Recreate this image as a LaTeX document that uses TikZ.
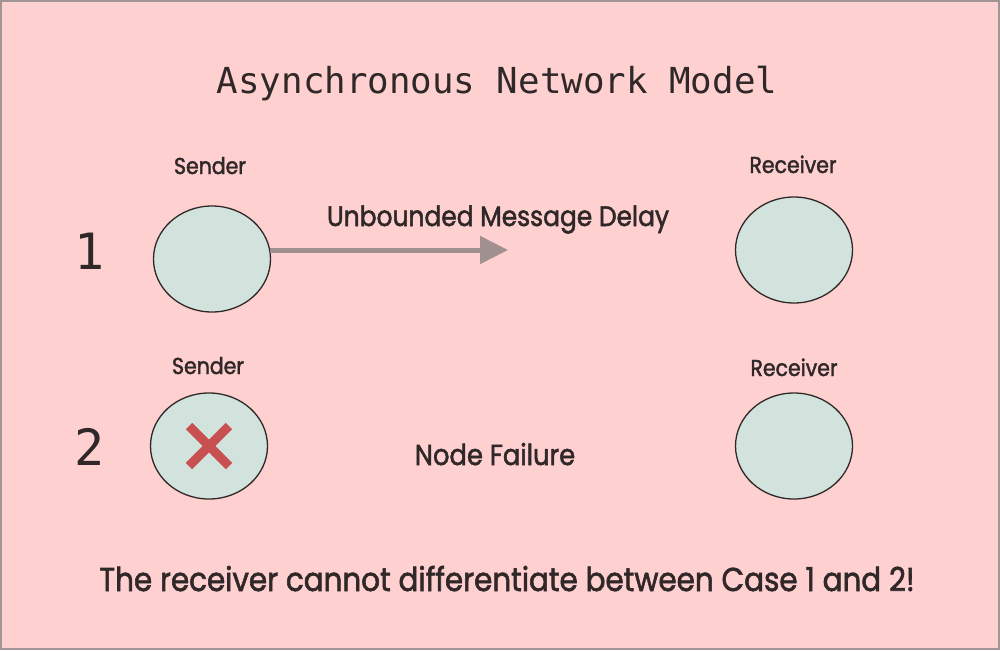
\documentclass[tikz,border=0pt]{standalone}
\usepackage{fontspec}
\setmainfont{Poppins}[FakeStretch=0.89,FakeBold=1.8]
\setmonofont{DejaVu Sans Mono}
\usetikzlibrary{shapes.geometric,arrows.meta}
\definecolor{bgpink}{HTML}{FFD0D0}
\definecolor{framecol}{HTML}{A09494}
\definecolor{ink}{HTML}{302828}
\definecolor{nodefill}{HTML}{D2E2DC}
\definecolor{arrowcol}{HTML}{A09090}
\definecolor{crosscol}{HTML}{C85050}
\begin{document}
\begin{tikzpicture}[x=1pt,y=-1pt,
  proc/.style={ellipse, draw=ink, line width=1.3pt, fill=nodefill,
    minimum width=117pt, minimum height=106pt, inner sep=0pt},
  lbl/.style={anchor=base, text=ink, inner sep=0pt},
  small/.style={lbl, font=\fontsize{23}{25}\selectfont},
  mid/.style={lbl, font=\fontsize{28}{30}\selectfont},
  big/.style={lbl, font=\fontsize{33}{36}\selectfont},
  mono/.style={lbl, font=\ttfamily\fontsize{35.8}{40}\selectfont},
  num/.style={lbl, font=\ttfamily\fontsize{50}{52}\selectfont},
  cross/.style={crosscol, line width=9pt}]
\useasboundingbox (0,0) rectangle (1000,650);
\fill[bgpink] (0,0) rectangle (1000,650);
\draw[framecol, line width=2pt] (1,1) rectangle (999,649);

\node[mono] (title) at (497,94) {Asynchronous Network Model};

\node[num] (n1) at (90,269) {1};
\node[num] (n2) at (90,465) {2};

\node[proc] (s1) at (212,259) {};
\node[proc] (r1) at (794,250) {};
\node[proc] (s2) at (209,446) {};
\node[proc] (r2) at (794,446) {};

\node[small] (s1l) at (210,174) {Sender};
\node[small] (r1l) at (793,173) {Receiver};
\node[small] (s2l) at (208,374) {Sender};
\node[small] (r2l) at (794,376) {Receiver};

\node[mid] (delay) at (498,226) {Unbounded Message Delay};
\node[mid, font=\fontsize{29}{31}\selectfont] (fail) at (495,465) {Node Failure};
\node[big] (concl) at (507,591) {The receiver cannot differentiate between Case 1 and 2!};

\coordinate (astart) at (270,250);
\coordinate (aend) at (508,250);
\draw[arrowcol, line width=5pt, -{Triangle[length=28pt,width=27pt]}] (astart) -- (aend);

\draw[cross] ([shift={(-20,-20)}]s2.center) -- ([shift={(20,20)}]s2.center);
\draw[cross] ([shift={(-20,20)}]s2.center) -- ([shift={(20,-20)}]s2.center);
\end{tikzpicture}
\end{document}
